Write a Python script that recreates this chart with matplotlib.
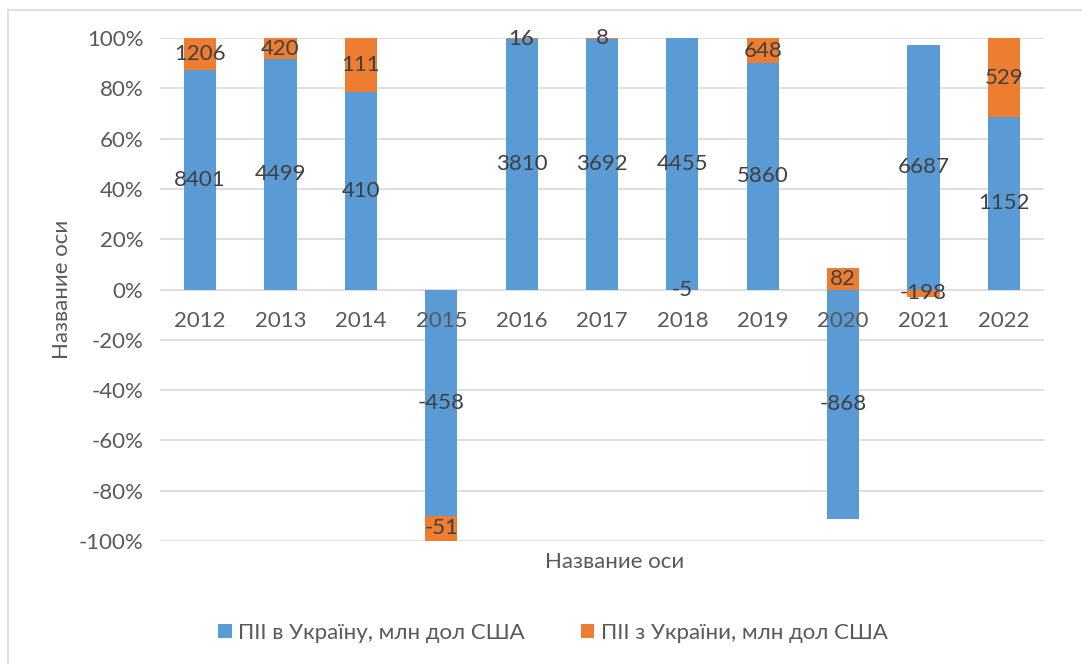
import numpy as np
import matplotlib.pyplot as plt
from matplotlib.lines import Line2D
from matplotlib.ticker import FuncFormatter

years = ['2012', '2013', '2014', '2015', '2016', '2017', '2018', '2019', '2020', '2021', '2022']
fdi_in = [8401, 4499, 410, -458, 3810, 3692, 4455, 5860, -868, 6687, 1152]
fdi_out = [1206, 420, 111, -51, 16, 8, -5, 648, 82, -198, 529]
name_in = 'ПІІ в Україну, млн дол США'
name_out = 'ПІІ з України, млн дол США'

blue = '#5B9BD5'
orange = '#ED7D31'
grid_c = '#D9D9D9'
txt_c = '#595959'
lab_c = '#404040'

plt.rcParams['font.family'] = ['Lato', 'DejaVu Sans']
fs = 16

a = np.array(fdi_in, dtype=float)
b = np.array(fdi_out, dtype=float)
tot = np.abs(a) + np.abs(b)
pa = a / tot
pb = b / tot

# stacking like excel: positives go up from 0, negatives down from 0
pos_base = np.zeros(len(years))
neg_base = np.zeros(len(years))

fig = plt.figure(figsize=(10.82, 6.64), dpi=100)
ax = fig.add_axes([160 / 1082, 1 - 541 / 664, (1044 - 160) / 1082, (541 - 38) / 664])
x = np.arange(len(years))

for vals, raw, col, name in [(pa, a, blue, name_in), (pb, b, orange, name_out)]:
    bottoms = np.where(vals >= 0, pos_base, neg_base)
    ax.bar(x, vals, 0.4, bottom=bottoms, color=col, zorder=2, label=name)
    for i in range(len(years)):
        ax.text(x[i], bottoms[i] + vals[i] / 2, '%d' % raw[i], ha='center', va='center',
                fontsize=fs, color=lab_c, zorder=5)
    pos_base = pos_base + np.where(vals >= 0, vals, 0)
    neg_base = neg_base + np.where(vals < 0, vals, 0)

ax.set_xlim(-0.5, len(years) - 0.5)
ax.set_ylim(-1, 1)
ax.set_yticks(np.arange(-1, 1.01, 0.2))
ax.yaxis.set_major_formatter(FuncFormatter(lambda v, p: '%d%%' % int(round(v * 100)) if abs(v) > 1e-9 else '0%'))
ax.tick_params(axis='y', length=0, labelsize=fs, labelcolor=txt_c, pad=12)
ax.set_xticks([])
ax.grid(axis='y', color=grid_c, linewidth=1.2, zorder=0)
ax.set_axisbelow(True)
for s in ax.spines.values():
    s.set_visible(False)

for i, y in enumerate(years):
    ax.annotate(y, xy=(x[i], 0), xytext=(0, -22.5), textcoords='offset points',
                ha='center', va='center', fontsize=fs, color=txt_c, zorder=6)

fig.text(615 / 1082, 1 - 562 / 664, 'Название оси', ha='center', va='center', fontsize=fs, color=txt_c)
fig.text(62 / 1082, 1 - 289 / 664, 'Название оси', ha='center', va='center', rotation=90,
         fontsize=fs, color=txt_c)

leg = fig.legend(loc='center', bbox_to_anchor=(553 / 1082, 1 - 633 / 664), ncol=2, frameon=False,
                 fontsize=fs, handlelength=0.6, handleheight=0.6, handletextpad=0.3, columnspacing=2.5)
for t in leg.get_texts():
    t.set_color(txt_c)

# chart border
fig.add_artist(Line2D([8 / 1082, 8 / 1082], [-0.1, 1 - 10 / 664], color=grid_c, lw=1.2))
fig.add_artist(Line2D([8 / 1082, 1.1], [1 - 10 / 664, 1 - 10 / 664], color=grid_c, lw=1.2))

fig.savefig('out.png', dpi=100)
